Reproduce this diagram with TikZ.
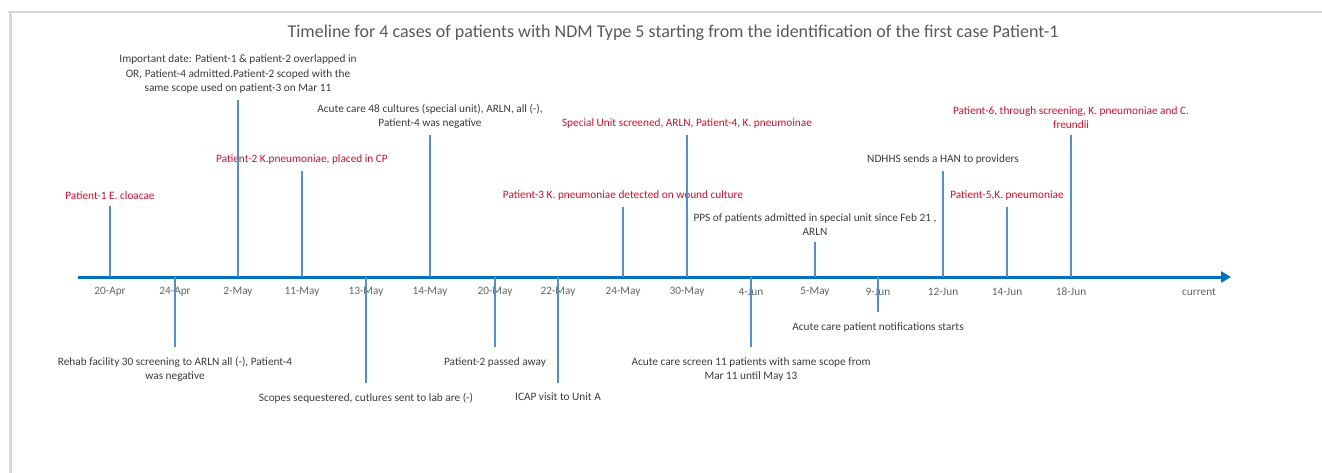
\documentclass[tikz,border=0pt]{standalone}
\usepackage{fontspec}
\setmainfont{Carlito}
\usetikzlibrary{arrows.meta}
\definecolor{axisblue}{RGB}{0,112,192}
\definecolor{tickblue}{RGB}{80,146,200}
\definecolor{txtgray}{RGB}{60,60,60}
\definecolor{titlegray}{RGB}{89,89,89}
\definecolor{dategray}{RGB}{100,100,100}
\definecolor{evred}{RGB}{200,16,46}
\definecolor{framegray}{RGB}{215,215,215}
\begin{document}
\begin{tikzpicture}[x=1pt,y=-1pt,
  lbl/.style={font=\fontsize{11.3}{14.5}\selectfont, align=center, inner xsep=1pt, inner ysep=5pt},
  uplbl/.style={lbl, anchor=south, inner ysep=6pt},
  dnlbl/.style={lbl, anchor=north, inner ysep=10pt},
  redtxt/.style={text=evred},
  graytxt/.style={text=txtgray},
  datelbl/.style={font=\fontsize{11.3}{13}\selectfont, text=dategray, inner sep=1pt},
  stem/.style={draw=tickblue, line width=1.2pt},
  axisline/.style={draw=axisblue, line width=3pt, -{Triangle[length=10pt,width=11pt]}}]
\useasboundingbox (0,0) rectangle (1322,473);
\fill[white] (0,0) rectangle (1322,473);
% frame
\draw[framegray, line width=1.2pt] (8,12) -- (1322,12);
\draw[framegray, line width=3pt] (10,11) -- (10,473);
% title
\node[font=\fontsize{18}{21}\selectfont, text=titlegray] (title) at (673,33)
  {Timeline for 4 cases of patients with NDM Type 5 starting from the identification of the first case Patient-1};
% axis
\coordinate (axstart) at (78,277);
\coordinate (axend) at (1231,277);
\draw[axisline] (axstart) -- (axend);
% tick coordinates
\foreach \n/\x in {a/110,b/175,c/238,d/302,e/366,f/430,g/495,h/558,i/623,j/687,k/751,l/815,m/878,n/943,o/1007,p/1071}
  \coordinate (t\n) at (\x,277);
% date labels
\node[datelbl] (da) at (110,292) {20-Apr};
\node[datelbl] (db) at (175,292) {24-Apr};
\node[datelbl] (dc) at (238,292) {2-May};
\node[datelbl] (dd) at (302,292) {11-May};
\node[datelbl] (de) at (366,292) {13-May};
\node[datelbl] (df) at (430,292) {14-May};
\node[datelbl] (dg) at (495,292) {20-May};
\node[datelbl] (dh) at (558,292) {22-May};
\node[datelbl] (di) at (623,292) {24-May};
\node[datelbl] (dj) at (687,292) {30-May};
\node[datelbl] (dk) at (751,292) {4-Jun};
\node[datelbl] (dl) at (815,292) {5-May};
\node[datelbl] (dm) at (878,292) {9-Jun};
\node[datelbl] (dn) at (943,292) {12-Jun};
\node[datelbl] (do) at (1007,292) {14-Jun};
\node[datelbl] (dp) at (1071,292) {18-Jun};
\node[datelbl] (dq) at (1199,292) {current};
% events above
\node[uplbl, redtxt] (e1) at (110,206) {Patient-1 E. cloacae};
\node[uplbl, graytxt] (e2) at (238,100) {Important date: Patient-1 \& patient-2 overlapped in\\OR, Patient-4 admitted.Patient-2 scoped with the\\same scope used on patient-3 on Mar 11};
\node[uplbl, redtxt] (e3) at (302,171) {Patient-2 K.pneumoniae, placed in CP};
\node[uplbl, graytxt] (e4) at (430,135) {Acute care 48 cultures (special unit), ARLN, all (-),\\Patient-4 was negative};
\node[uplbl, redtxt] (e5) at (623,207) {Patient-3 K. pneumoniae detected on wound culture};
\node[uplbl, redtxt] (e6) at (687,135) {Special Unit screened, ARLN, Patient-4, K. pneumoinae};
\node[uplbl, graytxt] (e7) at (815,242) {PPS of patients admitted in special unit since Feb 21 ,\\ARLN};
\node[uplbl, graytxt] (e8) at (943,171) {NDHHS sends a HAN to providers};
\node[uplbl, redtxt] (e9) at (1007,207) {Patient-5,K. pneumoniae};
\node[uplbl, redtxt] (e10) at (1071,135) {Patient-6, through screening, K. pneumoniae and C.\\freundii};
% events below
\node[dnlbl, graytxt] (f1) at (175,347) {Rehab facility 30 screening to ARLN all (-), Patient-4\\was negative};
\node[dnlbl, graytxt] (f2) at (366,383) {Scopes sequestered, cutlures sent to lab are (-)};
\node[dnlbl, graytxt] (f3) at (495,347) {Patient-2 passed away};
\node[dnlbl, graytxt] (f4) at (558,383) {ICAP visit to Unit A};
\node[dnlbl, graytxt] (f5) at (751,347) {Acute care screen 11 patients with same scope from\\Mar 11 until May 13};
\node[dnlbl, graytxt] (f6) at (878,312) {Acute care patient notifications starts};
% stems
\draw[stem] (ta) -- (e1.south);
\draw[stem] (tc) -- (e2.south);
\draw[stem] (td) -- (e3.south);
\draw[stem] (tf) -- (e4.south);
\draw[stem] (ti) -- (e5.south);
\draw[stem] (tj) -- (e6.south);
\draw[stem] (tl) -- (e7.south);
\draw[stem] (tn) -- (e8.south);
\draw[stem] (to) -- (e9.south);
\draw[stem] (tp) -- (e10.south);
\draw[stem] (tb) -- (f1.north);
\draw[stem] (te) -- (f2.north);
\draw[stem] (tg) -- (f3.north);
\draw[stem] (th) -- (f4.north);
\draw[stem] (tk) -- (f5.north);
\draw[stem] (tm) -- (f6.north);
\end{tikzpicture}
\end{document}
